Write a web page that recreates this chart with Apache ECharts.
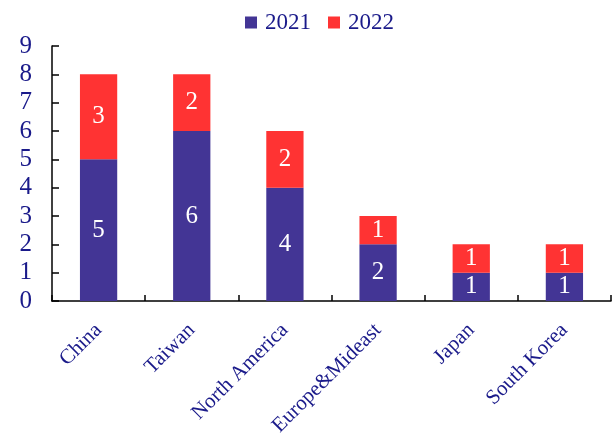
<!DOCTYPE html>
<html>
<head>
<meta charset="utf-8">
<script src="https://cdn.jsdelivr.net/npm/echarts@6/dist/echarts.min.js"></script>
<style>
  html, body { margin: 0; padding: 0; background: #fff; }
  #chart { width: 615px; height: 434px; }
</style>
</head>
<body>
<div id="chart"></div>
<script>
// Regional counts, stacked by year
const categories = ['China', 'Taiwan', 'North America', 'Europe&Mideast', 'Japan', 'South Korea'];
const values2021 = [5, 6, 4, 2, 1, 1];
const values2022 = [3, 2, 2, 1, 1, 1];
const yTicks = [0, 1, 2, 3, 4, 5, 6, 7, 8, 9];

const serif = '"Liberation Serif", "Times New Roman", serif';
const navy = '#1a1a8a';

const chart = echarts.init(document.getElementById('chart'));

const barLabel = {
  show: true,
  position: 'inside',
  color: '#ffffff',
  fontFamily: serif,
  fontSize: 25
};

chart.setOption({
  animation: false,
  legend: {
    top: 6,
    left: 240,
    itemWidth: 12,
    itemHeight: 12,
    itemGap: 17,
    icon: 'rect',
    textStyle: { fontFamily: serif, fontSize: 23, color: navy, padding: [0, 0, 0, 3] },
    data: ['2021', '2022']
  },
  grid: {
    left: 52, right: 4, top: 46, bottom: 133,
    containLabel: false,
    outerBoundsMode: 'none'
  },
  xAxis: {
    type: 'category',
    data: categories,
    axisLine: { lineStyle: { color: '#000', width: 1.5 } },
    axisTick: { show: true, inside: true, length: 6, lineStyle: { color: '#000', width: 1.5 } },
    axisLabel: {
      rotate: 45,
      interval: 0,
      margin: 26,
      fontFamily: serif,
      fontSize: 21,
      color: navy
    }
  },
  yAxis: {
    type: 'value',
    min: yTicks[0],
    max: yTicks[yTicks.length - 1],
    interval: 1,
    splitLine: { show: false },
    axisLine: { show: true, lineStyle: { color: '#000', width: 1.5 } },
    axisTick: { show: true, inside: true, length: 7, lineStyle: { color: '#000', width: 1.5 } },
    axisLabel: {
      margin: 20,
      fontFamily: serif,
      fontSize: 25,
      color: navy
    }
  },
  series: [
    {
      name: '2021',
      type: 'bar',
      stack: 'total',
      barWidth: '40%',
      data: values2021,
      itemStyle: { color: '#433595' },
      label: barLabel
    },
    {
      name: '2022',
      type: 'bar',
      stack: 'total',
      data: values2022,
      itemStyle: { color: '#ff3333' },
      label: barLabel
    }
  ]
});
</script>
</body>
</html>
